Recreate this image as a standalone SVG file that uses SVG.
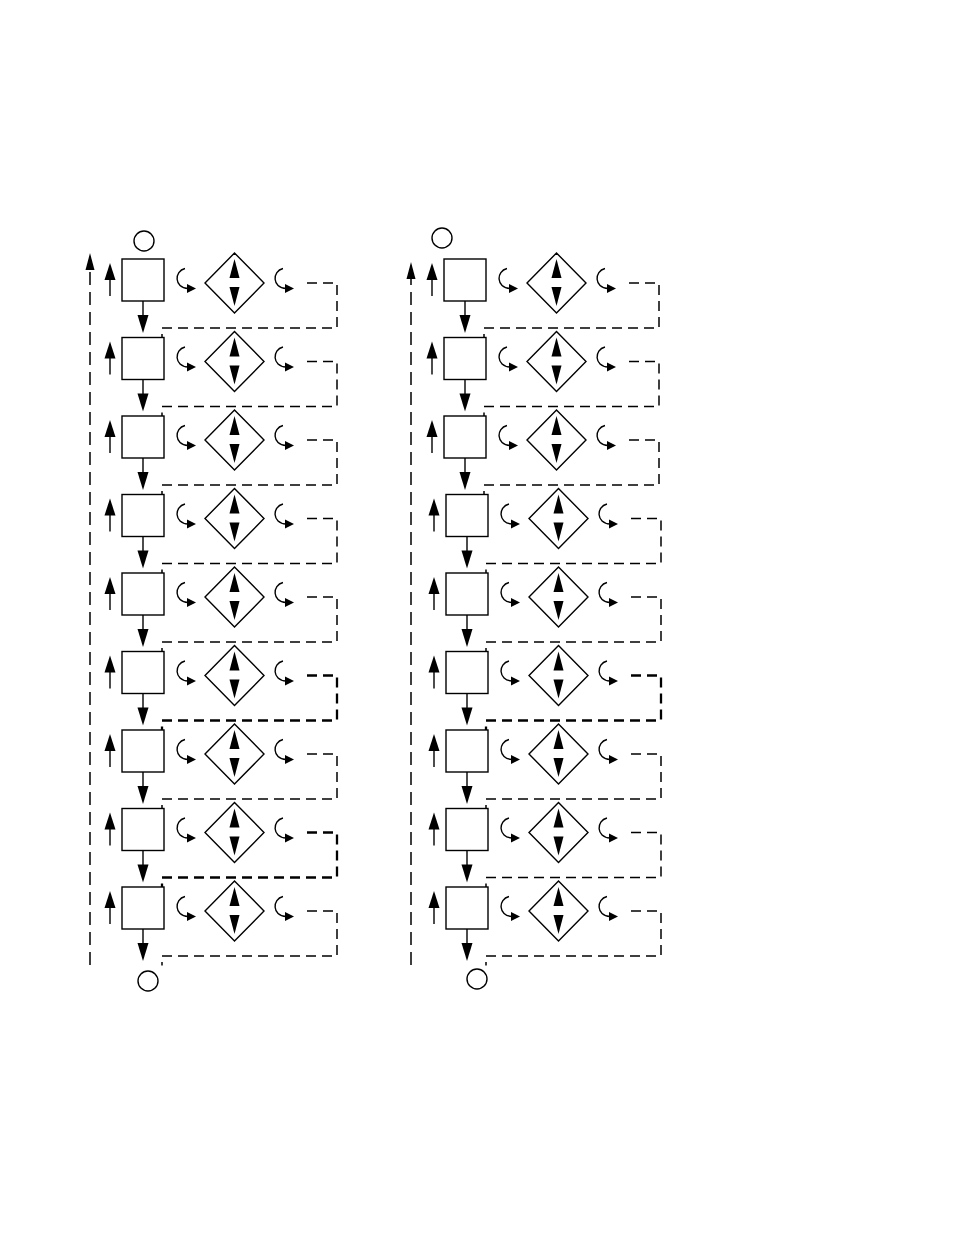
<svg xmlns="http://www.w3.org/2000/svg" xmlns:xlink="http://www.w3.org/1999/xlink" width="954" height="1235" viewBox="0 0 954 1235">
<style>
.n{fill:#fff;stroke:#000;stroke-width:1.4}
.f{fill:#000;stroke:none}
.ln{fill:none;stroke:#000;stroke-width:1.4}
.dl{fill:none;stroke:#000;stroke-width:1.5;stroke-dasharray:10 6}
.tk{stroke-width:2.3}
.lg{fill:none;stroke:#000;stroke-width:1.5;stroke-dasharray:13 7}
</style>
<defs>
<rect id="box" x="122" y="259" width="42" height="42"/>
<g id="dia">
<polygon class="n" points="205,283 234.5,253 264,283 234.5,313"/>
<polygon class="f" points="234.5,259 229.5,278 239.5,278"/>
<polygon class="f" points="229.5,287 239.5,287 234.5,306"/>
</g>
<g id="up">
<line class="ln" x1="110" y1="296" x2="110" y2="277"/>
<polygon class="f" points="110,263 104.5,280 115.5,280"/>
</g>
<g id="curl">
<path class="ln" d="M185,268.5 C174,271 174,288 188,288.5"/>
<polygon class="f" points="187,284 196,288.5 187,293"/>
</g>
<g id="down">
<line class="ln" x1="143" y1="301" x2="143" y2="317"/>
<polygon class="f" points="137.5,315 148.5,315 143,333"/>
</g>
<polyline id="loop" points="307,283 337,283 337,328 162,328 162,337.5"/>
</defs>

<g id="left-column">
<g id="L-start"><circle class="n" cx="144" cy="241" r="10"/></g>
<g id="L-box-1"><use href="#box" class="n"/></g>
<g id="L-box-2" transform="translate(0,78.5)"><use href="#box" class="n"/></g>
<g id="L-box-3" transform="translate(0,157)"><use href="#box" class="n"/></g>
<g id="L-box-4" transform="translate(0,235.5)"><use href="#box" class="n"/></g>
<g id="L-box-5" transform="translate(0,314)"><use href="#box" class="n"/></g>
<g id="L-box-6" transform="translate(0,392.5)"><use href="#box" class="n"/></g>
<g id="L-box-7" transform="translate(0,471)"><use href="#box" class="n"/></g>
<g id="L-box-8" transform="translate(0,549.5)"><use href="#box" class="n"/></g>
<g id="L-box-9" transform="translate(0,628)"><use href="#box" class="n"/></g>
<g id="L-dia-1"><use href="#dia"/></g>
<g id="L-dia-2" transform="translate(0,78.5)"><use href="#dia"/></g>
<g id="L-dia-3" transform="translate(0,157)"><use href="#dia"/></g>
<g id="L-dia-4" transform="translate(0,235.5)"><use href="#dia"/></g>
<g id="L-dia-5" transform="translate(0,314)"><use href="#dia"/></g>
<g id="L-dia-6" transform="translate(0,392.5)"><use href="#dia"/></g>
<g id="L-dia-7" transform="translate(0,471)"><use href="#dia"/></g>
<g id="L-dia-8" transform="translate(0,549.5)"><use href="#dia"/></g>
<g id="L-dia-9" transform="translate(0,628)"><use href="#dia"/></g>
<g id="L-end"><circle class="n" cx="148" cy="981" r="10"/></g>
</g>

<g id="right-column">
<g id="R-start"><circle class="n" cx="442" cy="238" r="10"/></g>
<g id="R-box-1" transform="translate(322,0)"><use href="#box" class="n"/></g>
<g id="R-box-2" transform="translate(322,78.5)"><use href="#box" class="n"/></g>
<g id="R-box-3" transform="translate(322,157)"><use href="#box" class="n"/></g>
<g id="R-box-4" transform="translate(324,235.5)"><use href="#box" class="n"/></g>
<g id="R-box-5" transform="translate(324,314)"><use href="#box" class="n"/></g>
<g id="R-box-6" transform="translate(324,392.5)"><use href="#box" class="n"/></g>
<g id="R-box-7" transform="translate(324,471)"><use href="#box" class="n"/></g>
<g id="R-box-8" transform="translate(324,549.5)"><use href="#box" class="n"/></g>
<g id="R-box-9" transform="translate(324,628)"><use href="#box" class="n"/></g>
<g id="R-dia-1" transform="translate(322,0)"><use href="#dia"/></g>
<g id="R-dia-2" transform="translate(322,78.5)"><use href="#dia"/></g>
<g id="R-dia-3" transform="translate(322,157)"><use href="#dia"/></g>
<g id="R-dia-4" transform="translate(324,235.5)"><use href="#dia"/></g>
<g id="R-dia-5" transform="translate(324,314)"><use href="#dia"/></g>
<g id="R-dia-6" transform="translate(324,392.5)"><use href="#dia"/></g>
<g id="R-dia-7" transform="translate(324,471)"><use href="#dia"/></g>
<g id="R-dia-8" transform="translate(324,549.5)"><use href="#dia"/></g>
<g id="R-dia-9" transform="translate(324,628)"><use href="#dia"/></g>
<g id="R-end"><circle class="n" cx="477" cy="979" r="10"/></g>
</g>

<g id="connectors">
<line class="lg" x1="90" y1="965" x2="90" y2="268"/>
<polygon class="f" points="90,253 85.5,270 94.5,270"/>
<line class="lg" x1="411" y1="965" x2="411" y2="276"/>
<polygon class="f" points="411,262 406.5,279 415.5,279"/>

<g transform="translate(0,0)"><use href="#up"/><use href="#curl"/><use href="#curl" x="98"/><use href="#down"/><use href="#loop" class="dl"/></g>
<g transform="translate(0,78.5)"><use href="#up"/><use href="#curl"/><use href="#curl" x="98"/><use href="#down"/><use href="#loop" class="dl"/></g>
<g transform="translate(0,157)"><use href="#up"/><use href="#curl"/><use href="#curl" x="98"/><use href="#down"/><use href="#loop" class="dl"/></g>
<g transform="translate(0,235.5)"><use href="#up"/><use href="#curl"/><use href="#curl" x="98"/><use href="#down"/><use href="#loop" class="dl"/></g>
<g transform="translate(0,314)"><use href="#up"/><use href="#curl"/><use href="#curl" x="98"/><use href="#down"/><use href="#loop" class="dl"/></g>
<g transform="translate(0,392.5)"><use href="#up"/><use href="#curl"/><use href="#curl" x="98"/><use href="#down"/><use href="#loop" class="dl tk"/></g>
<g transform="translate(0,471)"><use href="#up"/><use href="#curl"/><use href="#curl" x="98"/><use href="#down"/><use href="#loop" class="dl"/></g>
<g transform="translate(0,549.5)"><use href="#up"/><use href="#curl"/><use href="#curl" x="98"/><use href="#down"/><use href="#loop" class="dl tk"/></g>
<g transform="translate(0,628)"><use href="#up"/><use href="#curl"/><use href="#curl" x="98"/><use href="#down"/><use href="#loop" class="dl"/></g>

<g transform="translate(322,0)"><use href="#up"/><use href="#curl"/><use href="#curl" x="98"/><use href="#down"/><use href="#loop" class="dl"/></g>
<g transform="translate(322,78.5)"><use href="#up"/><use href="#curl"/><use href="#curl" x="98"/><use href="#down"/><use href="#loop" class="dl"/></g>
<g transform="translate(322,157)"><use href="#up"/><use href="#curl"/><use href="#curl" x="98"/><use href="#down"/><use href="#loop" class="dl"/></g>
<g transform="translate(324,235.5)"><use href="#up"/><use href="#curl"/><use href="#curl" x="98"/><use href="#down"/><use href="#loop" class="dl"/></g>
<g transform="translate(324,314)"><use href="#up"/><use href="#curl"/><use href="#curl" x="98"/><use href="#down"/><use href="#loop" class="dl"/></g>
<g transform="translate(324,392.5)"><use href="#up"/><use href="#curl"/><use href="#curl" x="98"/><use href="#down"/><use href="#loop" class="dl tk"/></g>
<g transform="translate(324,471)"><use href="#up"/><use href="#curl"/><use href="#curl" x="98"/><use href="#down"/><use href="#loop" class="dl"/></g>
<g transform="translate(324,549.5)"><use href="#up"/><use href="#curl"/><use href="#curl" x="98"/><use href="#down"/><use href="#loop" class="dl"/></g>
<g transform="translate(324,628)"><use href="#up"/><use href="#curl"/><use href="#curl" x="98"/><use href="#down"/><use href="#loop" class="dl"/></g>
</g>
</svg>
